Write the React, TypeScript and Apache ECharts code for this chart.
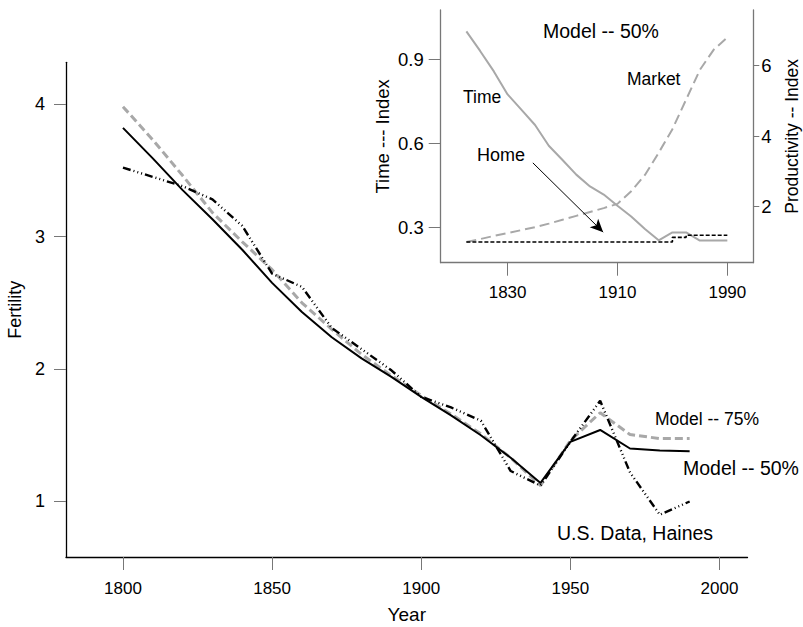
import React, { useEffect, useRef } from "react";
import * as echarts from "echarts";

// ---- data ----
const years = [1800, 1810, 1820, 1830, 1840, 1850, 1860, 1870, 1880, 1890, 1900, 1910, 1920, 1930, 1940, 1950, 1960, 1970, 1980, 1990];
const model50 = [3.82, 3.59, 3.35, 3.13, 2.9, 2.65, 2.43, 2.24, 2.08, 1.94, 1.79, 1.65, 1.5, 1.33, 1.14, 1.45, 1.54, 1.4, 1.385, 1.38];
const model75 = [3.98, 3.73, 3.46, 3.18, 2.96, 2.75, 2.5, 2.3, 2.11, 1.95, 1.8, 1.66, 1.51, 1.33, 1.12, 1.46, 1.67, 1.505, 1.475, 1.475];
const haines = [3.52, 3.45, 3.38, 3.28, 3.08, 2.72, 2.62, 2.31, 2.15, 1.99, 1.79, 1.71, 1.61, 1.23, 1.12, 1.45, 1.76, 1.22, 0.9, 1.0];

// inset (Model -- 50%)
const timeIndex = [1.0, 0.93, 0.857, 0.775, 0.721, 0.666, 0.592, 0.541, 0.489, 0.447, 0.418, 0.378, 0.34, 0.295, 0.255, 0.283, 0.283, 0.254, 0.254, 0.254];
const marketProd = [1.0, 1.08, 1.17, 1.25, 1.335, 1.42, 1.52, 1.63, 1.74, 1.85, 1.96, 2.08, 2.44, 2.9, 3.53, 4.2, 5.04, 5.88, 6.45, 6.8];
const homeProd = [1, 1, 1, 1, 1, 1, 1, 1, 1, 1, 1, 1, 1, 1, 1, 1.13, 1.19, 1.19, 1.19, 1.19];

const mainXTicks = [1800, 1850, 1900, 1950, 2000];
const mainYTicks = [1, 2, 3, 4];
const insetXTicks = [1830, 1910, 1990];
const insetLeftTicks = [0.3, 0.6, 0.9];
const insetRightTicks = [2, 4, 6];

// arrow from "Home" label (year, time-index coords)
const arrowFrom = [1848.4, 0.531];
const arrowTo = [1899.6, 0.284];

const FONT = "'Liberation Sans', Arial, Helvetica, sans-serif";

const pairs = (ys: number[]) => years.map((y, i) => [y, ys[i]]);

export default function App() {
  const ref = useRef<HTMLDivElement>(null);
  useEffect(() => {
    if (!ref.current) return;
    const chart = echarts.init(ref.current, undefined, { renderer: "svg" });
    const txt = (size: number) => ({ fontSize: size, color: "#000", fontFamily: FONT });
    const option: any = {
      animation: false,
      backgroundColor: "#fff",
      textStyle: { fontFamily: FONT },
      grid: [
        { left: 66, right: 55.5, top: 62.3, bottom: 70, containLabel: false, outerBoundsMode: "none" },
        { left: 440.7, right: 49.7, top: 10, bottom: 364.3, containLabel: false, outerBoundsMode: "none" },
      ],
      xAxis: [
        {
          type: "value", gridIndex: 0, min: 1780.9, max: 2009.4,
          axisLine: { show: true, onZero: false, lineStyle: { color: "#000", width: 1.3 } },
          axisTick: { show: true, customValues: mainXTicks, length: 13, lineStyle: { color: "#777", width: 1 } },
          axisLabel: { customValues: mainXTicks, margin: 23, formatter: (v: number) => String(v), ...txt(17) },
          splitLine: { show: false },
          name: "Year", nameLocation: "middle", nameGap: 48, nameTextStyle: txt(19),
        },
        {
          type: "value", gridIndex: 1, min: 1781.3, max: 2008.9,
          axisLine: { show: true, onZero: false, lineStyle: { color: "#777", width: 1.3 } },
          axisTick: { show: true, customValues: insetXTicks, length: 13, lineStyle: { color: "#777", width: 1 } },
          axisLabel: { customValues: insetXTicks, margin: 21, formatter: (v: number) => String(v), ...txt(17) },
          splitLine: { show: false },
        },
      ],
      yAxis: [
        {
          type: "value", gridIndex: 0, min: 0.581, max: 4.315,
          axisLine: { show: true, onZero: false, lineStyle: { color: "#000", width: 1.3 } },
          axisTick: { show: true, customValues: mainYTicks, length: 12, lineStyle: { color: "#777", width: 1 } },
          axisLabel: { customValues: mainYTicks, margin: 21, formatter: (v: number) => String(v), ...txt(18) },
          splitLine: { show: false },
          name: "Fertility", nameLocation: "middle", nameRotate: 90, nameGap: 42, nameTextStyle: txt(18),
        },
        {
          type: "value", gridIndex: 1, min: 0.175, max: 1.076, position: "left",
          axisLine: { show: true, onZero: false, lineStyle: { color: "#777", width: 1.3 } },
          axisTick: { show: true, customValues: insetLeftTicks, length: 12, lineStyle: { color: "#777", width: 1 } },
          axisLabel: { customValues: insetLeftTicks, margin: 17, formatter: (v: number) => v.toFixed(1), ...txt(18.5) },
          splitLine: { show: false },
          name: "Time --- Index", nameLocation: "middle", nameRotate: 90, nameGap: 49, nameTextStyle: txt(18.5),
        },
        {
          type: "value", gridIndex: 1, min: 0.411, max: 7.58, position: "right",
          axisLine: { show: true, onZero: false, lineStyle: { color: "#777", width: 1.3 } },
          axisTick: { show: true, customValues: insetRightTicks, length: 6, lineStyle: { color: "#777", width: 1 } },
          axisLabel: { customValues: insetRightTicks, margin: 8, formatter: (v: number) => String(v), ...txt(18.5) },
          splitLine: { show: false },
          name: "Productivity -- Index", nameLocation: "middle", nameRotate: 90, nameGap: 30, nameTextStyle: txt(17.5),
        },
      ],
      series: [
        {
          name: "Model -- 75%", type: "line", xAxisIndex: 0, yAxisIndex: 0, data: pairs(model75),
          showSymbol: false, symbol: "none",
          lineStyle: { color: "#a8a8a8", width: 3, type: [8, 4] },
        },
        {
          name: "U.S. Data, Haines", type: "line", xAxisIndex: 0, yAxisIndex: 0, data: pairs(haines),
          showSymbol: false, symbol: "none",
          lineStyle: { color: "#000", width: 2.4, type: [8, 3, 1, 3, 1, 3, 1, 3] },
        },
        {
          name: "Model -- 50%", type: "line", xAxisIndex: 0, yAxisIndex: 0, data: pairs(model50),
          showSymbol: false, symbol: "none",
          lineStyle: { color: "#000", width: 2 },
        },
        {
          name: "Time", type: "line", xAxisIndex: 1, yAxisIndex: 1, data: pairs(timeIndex),
          showSymbol: false, symbol: "none",
          lineStyle: { color: "#a8a8a8", width: 2 },
          markLine: {
            silent: true, symbol: ["none", "arrow"], symbolSize: [9, 13], label: { show: false },
            lineStyle: { color: "#000", width: 1, type: "solid" },
            data: [[{ coord: arrowFrom }, { coord: arrowTo }]],
          },
        },
        {
          name: "Market", type: "line", xAxisIndex: 1, yAxisIndex: 2, data: pairs(marketProd),
          showSymbol: false, symbol: "none",
          lineStyle: { color: "#a8a8a8", width: 2, type: [10, 5] },
        },
        {
          name: "Home", type: "line", xAxisIndex: 1, yAxisIndex: 2, data: pairs(homeProd),
          step: "end", showSymbol: false, symbol: "none",
          lineStyle: { color: "#000", width: 1.6, type: [4, 2] },
        },
      ],
      graphic: [
        { type: "text", left: 655, top: 410, style: { text: "Model -- 75%", font: `17.5px ${FONT}`, fill: "#000" } },
        { type: "text", left: 683, top: 458, style: { text: "Model -- 50%", font: `19.5px ${FONT}`, fill: "#000" } },
        { type: "text", left: 557, top: 523, style: { text: "U.S. Data, Haines", font: `19.5px ${FONT}`, fill: "#000" } },
        { type: "text", left: 543, top: 21, style: { text: "Model -- 50%", font: `19.5px ${FONT}`, fill: "#000" } },
        { type: "text", left: 463, top: 88, style: { text: "Time", font: `17.5px ${FONT}`, fill: "#000" } },
        { type: "text", left: 477, top: 146, style: { text: "Home", font: `18px ${FONT}`, fill: "#000" } },
        { type: "text", left: 627, top: 70, style: { text: "Market", font: `17.5px ${FONT}`, fill: "#000" } },
      ],
    };
    chart.setOption(option);
    return () => chart.dispose();
  }, []);
  return <div ref={ref} style={{ position: "absolute", left: 0, top: 0, width: 803, height: 627 }} />;
}
